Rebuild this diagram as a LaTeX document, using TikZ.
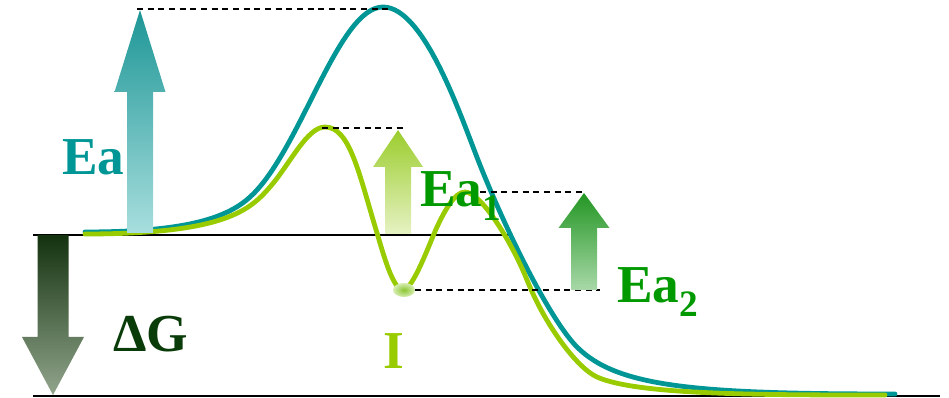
\documentclass[tikz,border=0pt]{standalone}
\usepackage{fontspec}
\setmainfont{Liberation Serif}
\definecolor{tealline}{RGB}{0,150,150}
\definecolor{limeline}{RGB}{153,204,0}
\definecolor{eagreen}{RGB}{0,153,0}
\definecolor{dgdark}{RGB}{10,60,10}
\definecolor{eatop}{RGB}{30,150,150}
\definecolor{eabot}{RGB}{168,222,222}
\definecolor{eaonetop}{RGB}{155,205,45}
\definecolor{eaonebot}{RGB}{230,242,195}
\definecolor{eatwotop}{RGB}{35,150,35}
\definecolor{eatwobot}{RGB}{168,216,168}
\definecolor{dgtop}{RGB}{20,50,15}
\definecolor{dgbot}{RGB}{145,165,140}
\definecolor{dotin}{RGB}{140,198,50}
\definecolor{dotout}{RGB}{215,238,180}
% block arrow: style, x, tail y, head base y, tip y, shaft half width, head half width
\newcommand{\blockarrow}[7]{%
  \path[#1] (#2-#6,#3) -- (#2-#6,#4) -- (#2-#7,#4) -- (#2,#5)
    -- (#2+#7,#4) -- (#2+#6,#4) -- (#2+#6,#3) -- cycle;}
\begin{document}
\begin{tikzpicture}[
  x=0.75pt, y=-0.75pt,
  level/.style={draw=black, line width=1.1pt},
  guide/.style={draw=black, line width=0.9pt, dash pattern=on 4.5pt off 3.5pt},
  profile/.style={line width=3.6pt, line cap=round, line join=round},
  eabar/.style={top color=eatop, bottom color=eabot},
  eaonebar/.style={top color=eaonetop, bottom color=eaonebot},
  eatwobar/.style={top color=eatwotop, bottom color=eatwobot},
  dgbar/.style={top color=dgtop, bottom color=dgbot},
  energy/.style={font=\fontsize{40}{40}\selectfont\bfseries, inner sep=0pt, anchor=base west}
]
\useasboundingbox (0,0) rectangle (949,398);

% levels
\coordinate (react) at (33,235);
\coordinate (reactend) at (510,235);
\coordinate (prod) at (33,396);
\coordinate (prodend) at (940,396);
\draw[level] (react) -- (reactend);
\draw[level] (prod) -- (prodend);

% uncatalysed profile
\draw[profile, tealline] (85,232)
  .. controls (180,232) and (225,220) .. (250,197)
  .. controls (300,152) and (338,7) .. (383,7)
  .. controls (425,7) and (462,120) .. (480,165)
  .. controls (510,240) and (552,322) .. (577,347)
  .. controls (617,387) and (695,394) .. (895,394);

% two-step profile
\draw[profile, limeline] (85,234)
  .. controls (225,234) and (250,210) .. (270,187)
  .. controls (290,164) and (307,127) .. (325,127)
  .. controls (350,127) and (359,174) .. (377,233)
  .. controls (383,253) and (393,290) .. (403,290)
  .. controls (413,290) and (430,242) .. (437,227)
  .. controls (445,210) and (455,192) .. (465,192)
  .. controls (480,192) and (510,238) .. (527,280)
  .. controls (545,325) and (577,368) .. (597,377)
  .. controls (637,395) and (760,395) .. (885,395);

% guide lines
\coordinate (tsa) at (137,9);
\coordinate (tsb) at (390,9);
\coordinate (tsone) at (322,128);
\coordinate (tsoneend) at (403,128);
\coordinate (tstwo) at (480,192);
\coordinate (tstwoend) at (583,192);
\coordinate (mid) at (415,290);
\coordinate (midend) at (600,290);
\draw[guide] (tsa) -- (tsb);
\draw[guide] (tsone) -- (tsoneend);
\draw[guide] (tstwo) -- (tstwoend);
\draw[guide] (mid) -- (midend);

% intermediate
\shade[inner color=dotin, outer color=dotout] (404,290) ellipse (11 and 7);

% arrows
\blockarrow{eabar}{140}{233}{92}{10}{13}{25.5}
\blockarrow{eaonebar}{398}{234}{167}{130}{13}{25}
\blockarrow{eatwobar}{584}{290}{228}{193}{13}{25.5}
\blockarrow{dgbar}{53}{235}{337}{395}{15.5}{31}

% labels
\node[energy, tealline] (ea) at (62,175) {Ea};
\node[energy, eagreen] (eaone) at (420,207) {Ea\raisebox{-10pt}{\fontsize{28}{28}\selectfont 1}};
\node[energy, eagreen] (eatwo) at (617,303) {Ea\raisebox{-10pt}{\fontsize{28}{28}\selectfont 2}};
\node[energy, dgdark] (dg) at (113,352) {ΔG};
\node[energy, limeline] (inter) at (383,369) {I};
\end{tikzpicture}
\end{document}
